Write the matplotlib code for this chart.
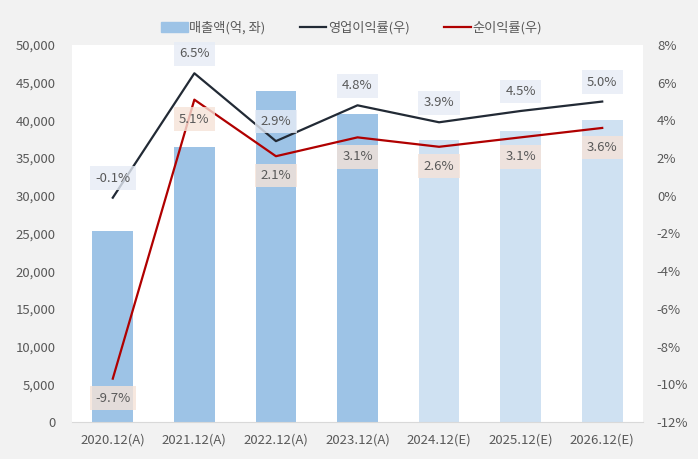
import numpy as np
import matplotlib
matplotlib.use("Agg")
from matplotlib import pyplot as plt
from matplotlib.patches import Patch
from matplotlib.lines import Line2D
from matplotlib.ticker import FuncFormatter, MultipleLocator

plt.rcParams['font.family'] = ['Noto Sans CJK KR', 'DejaVu Sans']

# 데이터
years = ['2020.12(A)', '2021.12(A)', '2022.12(A)', '2023.12(A)',
         '2024.12(E)', '2025.12(E)', '2026.12(E)']
sales = [25300, 36500, 43900, 40800, 37400, 38600, 40000]
op_margin = [-0.1, 6.5, 2.9, 4.8, 3.9, 4.5, 5.0]
net_margin = [-9.7, 5.1, 2.1, 3.1, 2.6, 3.1, 3.6]
is_estimate = [False, False, False, False, True, True, True]

text_col = '#595959'
bar_col = '#9dc3e6'
bar_est_col = '#cfe1f2'
op_col = '#222a35'
net_col = '#b00000'

fig = plt.figure(figsize=(6.98, 4.59), dpi=100, facecolor='#f2f2f2')
ax = fig.add_axes([72 / 698, 1 - 422 / 459, 571 / 698, 377 / 459])
ax.set_facecolor('white')

x = np.arange(len(years))
colors = [bar_est_col if e else bar_col for e in is_estimate]
ax.bar(x, sales, width=0.5, color=colors, zorder=2)
ax.set_xlim(-0.5, len(years) - 0.5)
ax.set_ylim(0, 50000)
ax.yaxis.set_major_locator(MultipleLocator(5000))
ax.yaxis.set_major_formatter(FuncFormatter(lambda v, p: f'{int(v):,}'))
ax.set_xticks(x)
ax.set_xticklabels(years)

for s in ['top', 'left', 'right']:
    ax.spines[s].set_visible(False)
ax.spines['bottom'].set_color('#d9d9d9')
ax.tick_params(axis='both', length=0, colors=text_col, labelsize=9.5)
ax.tick_params(axis='x', pad=8)
ax.tick_params(axis='y', pad=12)

ax2 = ax.twinx()
ax2.set_ylim(-12, 8)
ax2.yaxis.set_major_locator(MultipleLocator(2))
ax2.yaxis.set_major_formatter(FuncFormatter(lambda v, p: f'{int(v)}%'))
for s in ax2.spines.values():
    s.set_visible(False)
ax2.tick_params(axis='y', length=0, colors=text_col, labelsize=9.5, pad=10)

ax2.plot(x, op_margin, color=op_col, lw=1.6, zorder=3)
ax2.plot(x, net_margin, color=net_col, lw=1.6, zorder=3)

# 라벨
for i in range(len(x)):
    ax2.annotate(f'{op_margin[i]:.1f}%', (x[i], op_margin[i]), xytext=(0, 14),
                 textcoords='offset points', ha='center', va='center',
                 fontsize=9.5, color=text_col, zorder=5,
                 bbox=dict(boxstyle='square,pad=0.4', fc='#e6ecf6', ec='none', alpha=0.8))
    ax2.annotate(f'{net_margin[i]:.1f}%', (x[i], net_margin[i]), xytext=(0, -14),
                 textcoords='offset points', ha='center', va='center',
                 fontsize=9.5, color=text_col, zorder=5,
                 bbox=dict(boxstyle='square,pad=0.4', fc='#f6e3d8', ec='none', alpha=0.8))

handles = [Patch(color=bar_col), Line2D([], [], color=op_col, lw=1.6),
           Line2D([], [], color=net_col, lw=1.6)]
labels = ['매출액(억, 좌)', '영업이익률(우)', '순이익률(우)']
fig.legend(handles, labels, loc='center', bbox_to_anchor=(0.504, 1 - 28 / 459),
           ncol=3, frameon=False, fontsize=9.5, labelcolor=text_col,
           handlelength=2.0, handletextpad=0.15, columnspacing=2.6)

fig.savefig('out.png', dpi=100, facecolor=fig.get_facecolor())
